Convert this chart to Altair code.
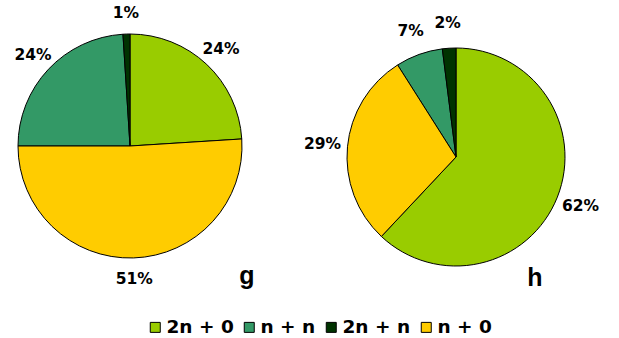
import altair as alt
import pandas as pd

categories = ["2n + 0", "n + n", "2n + n", "n + 0"]
colors = ["#99CC00", "#339966", "#003300", "#FFCC00"]
pie_order = ["2n + 0", "n + 0", "n + n", "2n + n"]
g_values = [24, 24, 1, 51]
h_values = [62, 7, 2, 29]
panel_names = ["g", "h"]

rows = []
for panel, vals in zip(panel_names, [g_values, h_values]):
    for cat, v in zip(categories, vals):
        rows.append({"panel": panel, "category": cat, "value": v,
                     "order": pie_order.index(cat), "label": f"{v}%"})
df = pd.DataFrame(rows)

color_scale = alt.Scale(domain=categories, range=colors)
legend = alt.Legend(
    title=None, orient="none", legendX=146, legendY=318, direction="horizontal",
    symbolType="square", symbolSize=100, symbolStrokeColor="black",
    symbolStrokeWidth=1, symbolOpacity=1,
    labelFont="DejaVu Sans", labelFontWeight="bold", labelFontSize=18.5,
    labelColor="black", labelOffset=2, columnPadding=6, padding=0,
)

base = alt.Chart(df)

def pie(panel, cx, cy, r, lr, with_legend):
    d = base.transform_filter(alt.datum.panel == panel)
    arc = d.mark_arc(outerRadius=r, stroke="black", strokeWidth=1).encode(
        theta=alt.Theta("value:Q", stack=True),
        color=alt.Color("category:N", scale=color_scale,
                        legend=legend if with_legend else None),
        order=alt.Order("order:Q"),
        x=alt.value(cx), y=alt.value(cy),
    )
    txt = d.mark_text(radius=lr, font="DejaVu Sans", fontWeight="bold",
                      fontSize=15.5, color="black").encode(
        theta=alt.Theta("value:Q", stack=True),
        text="label:N",
        detail="category:N",
        order=alt.Order("order:Q"),
        x=alt.value(cx), y=alt.value(cy),
    )
    return arc + txt

names = pd.DataFrame({"name": panel_names, "idx": [0, 1]})
g_lab = alt.Chart(names).transform_filter(alt.datum.name == "g").mark_text(
    font="Liberation Sans", fontWeight="bold", fontSize=25, baseline="alphabetic",
    align="center", color="black").encode(text="name:N", x=alt.value(247), y=alt.value(284))
h_lab = alt.Chart(names).transform_filter(alt.datum.name == "h").mark_text(
    font="Liberation Sans", fontWeight="bold", fontSize=25, baseline="alphabetic",
    align="center", color="black").encode(text="name:N", x=alt.value(535), y=alt.value(286))

chart = alt.layer(
    pie("g", 130, 146, 112, 133, True),
    pie("h", 456, 157, 109, 134, False),
    g_lab, h_lab,
).properties(width=619, height=338, autosize="none", padding=0).configure_view(stroke=None)

chart.save("out.html", embed_options={"renderer": "svg", "actions": False})
